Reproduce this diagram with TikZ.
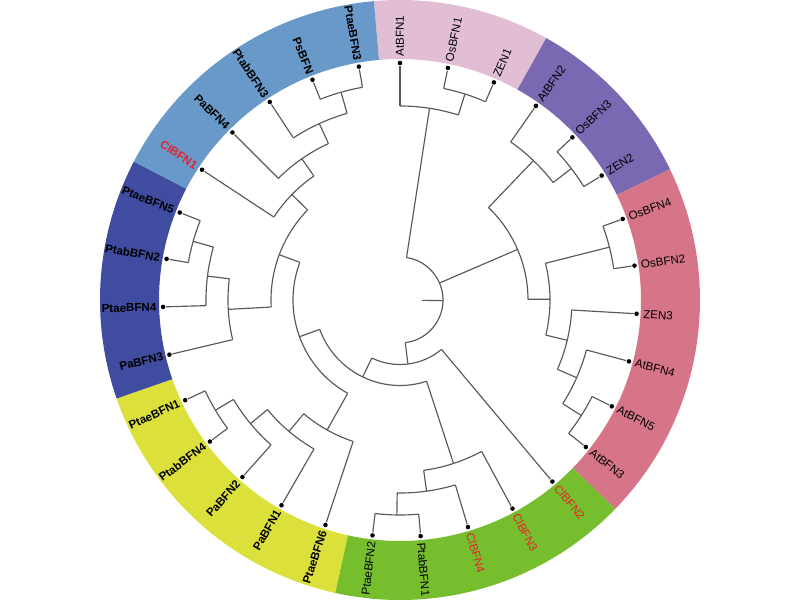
\documentclass[tikz,border=0pt]{standalone}
\usepackage{fontspec}
\setmainfont{Liberation Sans}
\definecolor{ringpink}{HTML}{E1BED4}
\definecolor{ringpurple}{HTML}{7A68B2}
\definecolor{ringrose}{HTML}{D67588}
\definecolor{ringgreen}{HTML}{76BE2E}
\definecolor{ringyellow}{HTML}{DCE03A}
\definecolor{ringnavy}{HTML}{3F4CA0}
\definecolor{ringsky}{HTML}{6899C9}
\definecolor{clred}{HTML}{E8202A}

\tikzset{
  branch/.style={draw=black!65, line width=0.33pt},
  tipdot/.style={circle, fill=black, inner sep=0pt, minimum size=1.3pt},
  leaf/.style={font=\fontsize{3.3}{4}\selectfont, inner sep=0pt, text=black},
  leafb/.style={leaf, font=\fontsize{3.3}{4}\selectfont\bfseries},
  leafr/.style={leaf, text=clred},
  leafrb/.style={leafb, text=clred},
}

\begin{document}
\begin{tikzpicture}
    \useasboundingbox (-4,-3) rectangle (4,3);

    % coloured ring behind the labels
    \foreach \s/\e/\c in {95/60.8333/ringpink, 60.8333/25.8333/ringpurple,
        25.8333/-44.1667/ringrose, -44.1667/-102.5/ringgreen,
        -102.5/-160.8333/ringyellow, -160.8333/-207.5/ringnavy,
        -207.5/-265/ringsky} {
        \fill[\c] (\s:2.41) arc[start angle=\s, end angle=\e, radius=2.41]
            -- (\e:3) arc[start angle=\e, end angle=\s, radius=3] -- cycle;
    }

    % root stub and root arc
    \coordinate (root) at (-0.85:0.43);
    \coordinate (stub) at (-0.85:0.22);
    \draw[branch] (stub) -- (root);
    \draw[branch] (81.25:0.43) arc[start angle=81.25, end angle=-82.949, radius=0.43];

    % inner nodes: name/radius/first child/last child/parent radius
    \foreach \n/\r/\p/\q/\pr in {
        A1/2.16/78.333/66.667/1.94, A/1.94/90/72.5/0.43,
        Pu1/2.16/43.333/31.667/1.93, Pu/1.93/55/37.5/1.28,
        Os/2.16/20/8.333/1.50, At2/2.15/-26.667/-38.333/1.93,
        At/1.93/-15/-32.5/1.72, Z/1.72/-3.333/-23.75/1.50,
        Ro/1.50/14.167/-13.542/1.28, B/1.28/46.25/0.3125/0.43,
        G/2.15/-85/-96.667/1.93, F/1.93/-73.333/-90.833/1.72,
        E/1.72/-61.667/-82.083/0.855,
        L/2.15/-143.333/-155/1.94, K/1.94/-131.667/-149.167/1.72,
        J/1.72/-120/-140.417/1.49, I/1.49/-108.333/-130.208/1.07,
        M/2.15/-190/-201.667/1.94, N/1.94/-178.333/-195.833/1.72,
        O/1.72/-166.667/-187.083/1.29,
        Q/2.16/-248.333/-260/1.94, R/1.94/-236.667/-254.167/1.72,
        S/1.72/-225/-245.417/1.51, T/1.51/-213.333/-235.208/1.29,
        P/1.29/-176.875/-224.271/1.07, H/1.07/-200.573/-119.271/0.855,
        D/0.855/-71.875/-159.922/0.645, C/0.645/-50/-115.898/0.43} {
        \pgfmathsetmacro\m{(\p+\q)/2}
        \coordinate (\n) at (\m:\r);
        \coordinate (\n-in) at (\m:\pr);
        \draw[branch] (\n-in) -- (\n);
        \draw[branch] (\p:\r) arc[start angle=\p, end angle=\q, radius=\r];
    }

    % leaves: index/label/parent radius/label style
    \foreach \k/\lab/\pr/\sty in {
        0/AtBFN1/1.94/leaf, 1/OsBFN1/2.16/leaf, 2/ZEN1/2.16/leaf,
        3/AtBFN2/1.93/leaf, 4/OsBFN3/2.16/leaf, 5/ZEN2/2.16/leaf,
        6/OsBFN4/2.16/leaf, 7/OsBFN2/2.16/leaf, 8/ZEN3/1.72/leaf,
        9/AtBFN4/1.93/leaf, 10/AtBFN5/2.15/leaf, 11/AtBFN3/2.15/leaf,
        12/ClBFN2/0.645/leafr, 13/ClBFN3/1.72/leafr, 14/ClBFN4/1.93/leafr,
        15/PtabBFN1/2.15/leaf, 16/PtaeBFN2/2.15/leaf,
        17/PtaeBFN6/1.49/leafb, 18/PaBFN1/1.72/leafb, 19/PaBFN2/1.94/leafb,
        20/PtabBFN4/2.15/leafb, 21/PtaeBFN1/2.15/leafb,
        22/PaBFN3/1.72/leafb, 23/PtaeBFN4/1.94/leafb,
        24/PtabBFN2/2.15/leafb, 25/PtaeBFN5/2.15/leafb,
        26/ClBFN1/1.51/leafrb, 27/PaBFN4/1.72/leafb, 28/PtabBFN3/1.94/leafb,
        29/PsBFN/2.16/leafb, 30/PtaeBFN3/2.16/leafb} {
        \pgfmathsetmacro\a{90-35*\k/3}
        \node[tipdot] (t\k) at (\a:2.37) {};
        \coordinate (t\k-in) at (\a:\pr);
        \draw[branch] (t\k-in) -- (t\k);
        \ifdim\a pt>-90pt
            \node[\sty, anchor=west, rotate=\a] (l\k) at (\a:2.43) {\lab};
        \else
            \pgfmathsetmacro\b{\a+180}
            \node[\sty, anchor=east, rotate=\b] (l\k) at (\a:2.43) {\lab};
        \fi
    }
\end{tikzpicture}
\end{document}
